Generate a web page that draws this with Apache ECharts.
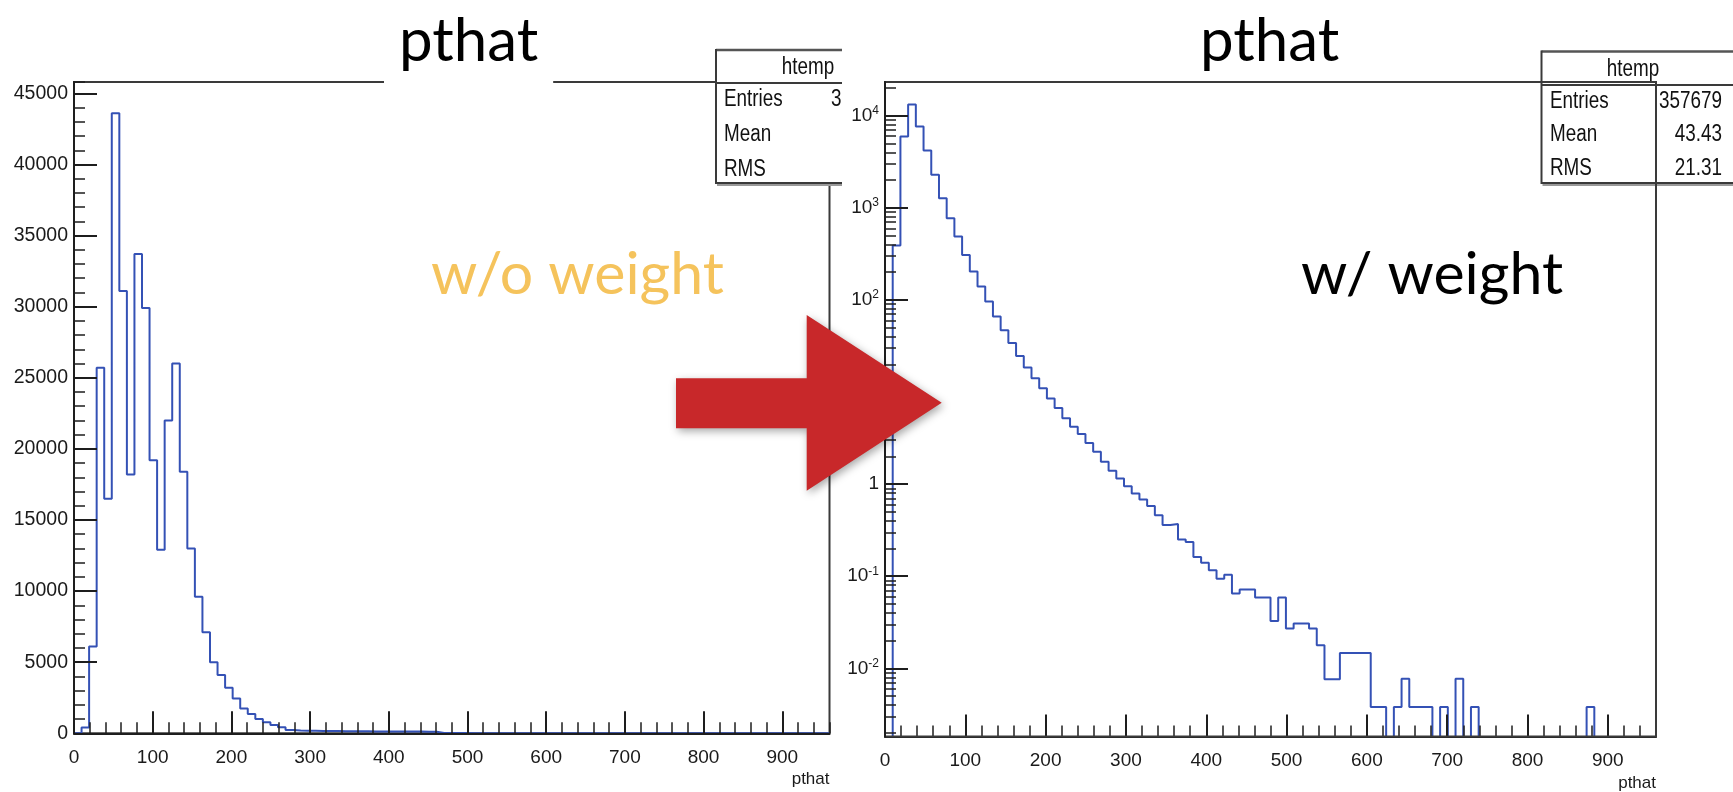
<!DOCTYPE html>
<html>
<head>
<meta charset="utf-8">
<script src="https://cdn.jsdelivr.net/npm/echarts@6/dist/echarts.min.js"></script>
<style>
html,body{margin:0;padding:0;background:#fff;}
#c{width:1733px;height:792px;}
</style>
</head>
<body>
<div id="c"></div>
<script>
// ---------------- data ----------------
const binLow = 0;          // first bin edge (pthat)
const binWidth = 9.6;      // 100 bins from 0 to 960
const xMin = 0, xMax = 960;

// unweighted pthat counts (left panel)
const unweighted = [
  0, 400, 6100, 25700, 16500, 43600, 31100, 18200, 33700, 29900,
  19200, 12900, 22000, 26000, 18400, 13000, 9600, 7100, 5000, 4100,
  3200, 2450, 1750, 1350, 1000, 780, 580, 420, 240, 200,
  185, 175, 165, 160, 155, 150, 145, 140, 140, 135,
  130, 130, 125, 125, 120, 120, 115, 110, 20, 18,
  15, 14, 12, 10, 9, 8, 6, 4, 4, 5,
  5, 4, 4, 1, 1, 0, 1, 2, 1, 1,
  1, 0, 1, 0, 2, 0, 1, 0, 0, 0,
  0, 0, 0, 0, 0, 0, 0, 0, 0, 0,
  0, 1, 0, 0, 0, 0, 0, 0, 0, 0
];

// weighted pthat distribution (right panel, log scale)
const weighted = [
  0, 390, 5960, 13200, 7650, 4200, 2290, 1270, 772, 488,
  308, 203, 140, 96, 66, 47, 34, 24.6, 18.5, 14.1,
  11, 8.5, 6.7, 5.2, 4.2, 3.5, 2.8, 2.25, 1.75, 1.40,
  1.15, 0.95, 0.79, 0.68, 0.58, 0.46, 0.36, 0.37, 0.25, 0.236,
  0.162, 0.14, 0.116, 0.094, 0.104, 0.065, 0.0716, 0.0716, 0.0586, 0.0586,
  0.0327, 0.0586, 0.027, 0.0306, 0.0306, 0.027, 0.0178, 0.0076, 0.0076, 0.0147,
  0.0147, 0.0147, 0.0147, 0.0038, 0.0038, 0, 0.0038, 0.0077, 0.0038, 0.0038,
  0.0038, 0, 0.0038, 0, 0.0077, 0, 0.0038, 0, 0, 0,
  0, 0, 0, 0, 0, 0, 0, 0, 0, 0,
  0, 0.0038, 0, 0, 0, 0, 0, 0, 0, 0
];

const linMax = 45800;                   // left y range top
const logMin = 0.00182, logMax = 23230; // right y range
const logDecades = [0.01, 0.1, 1, 10, 100, 1000, 10000];

const panelTitles = ['pthat', 'pthat'];
const axisTitle = 'pthat';
const notes = ['w/o weight', 'w/ weight'];
const statsTitle = 'htemp';
const statsLabels = ['Entries', 'Mean', 'RMS'];
const statsRightValues = ['357679', '43.43', '21.31'];
const statsLeftValues = ['357679'];

// ---------------- helpers ----------------
const ROOT_FONT = "'Liberation Sans',Arial,sans-serif";
const SLIDE_FONT = "Lato,'Open Sans',sans-serif";
const AX = '#1e1e1e';
const HIST = '#3451b5';

function edge(k) { return +(binLow + k * binWidth).toFixed(4); }
function histPoints(vals, floor) {
  const pts = vals.map((v, k) => [edge(k), v > 0 ? v : floor]);
  pts.push([edge(vals.length), pts[pts.length - 1][1]]);
  return pts;
}
const minorLog = [];
for (let e = -3; e <= 4; e++) {
  for (let m = 2; m <= 9; m++) {
    const v = +(m * Math.pow(10, e)).toPrecision(3);
    if (v > logMin && v < logMax) minorLog.push(v);
  }
}
function logLabel(v) {
  const e = Math.round(Math.log10(v));
  if (e === 0) return '1';
  if (e === 1) return '10';
  return '10{s|' + e + '}';
}

function xAxesFor(grid) {
  return [
    {
      type: 'value', gridIndex: grid, min: xMin, max: xMax, interval: 100,
      position: 'bottom', z: 3,
      axisLine: { show: true, onZero: false, lineStyle: { color: AX, width: 2 } },
      axisTick: { show: true, inside: true, length: 22, lineStyle: { color: AX, width: 2 } },
      axisLabel: { show: true, margin: 15, showMaxLabel: false, formatter: v => String(v),
        color: '#1a1a1a', fontFamily: ROOT_FONT, fontSize: 19 },
      splitLine: { show: false },
      name: axisTitle, nameLocation: 'end', nameGap: 0,
      nameTextStyle: { fontFamily: ROOT_FONT, fontSize: 17, color: '#1a1a1a', align: 'right', verticalAlign: 'top', padding: [38, 0, 0, 0] }
    },
    {
      type: 'value', gridIndex: grid, min: xMin, max: xMax, interval: 20,
      position: 'bottom', z: 3,
      axisLine: { show: false },
      axisTick: { show: true, inside: true, length: 11, lineStyle: { color: AX, width: 1.5 } },
      axisLabel: { show: false }, splitLine: { show: false }
    }
  ];
}

const titleText = { fontFamily: SLIDE_FONT, fontSize: 60, fontWeight: 'normal', color: '#000', lineHeight: 60 };

const option = {
  animation: false,
  backgroundColor: '#fff',
  title: [
    { text: panelTitles[0], left: 384, top: 0, padding: [12, 15, 12, 15], backgroundColor: '#fff', z: 8, textStyle: titleText },
    { text: panelTitles[1], left: 1185, top: 0, padding: [12, 15, 12, 15], backgroundColor: '#fff', z: 8, textStyle: titleText }
  ],
  grid: [
    { left: 74, top: 82, width: 755.5, height: 651.3, show: true, borderColor: '#3a3a3a', borderWidth: 2, backgroundColor: 'transparent', outerBoundsMode: 'none', containLabel: false },
    { left: 885, top: 82, width: 771, height: 654.5, show: true, z: 12, borderColor: '#3a3a3a', borderWidth: 2, backgroundColor: 'transparent', outerBoundsMode: 'none', containLabel: false }
  ],
  xAxis: [].concat(xAxesFor(0), xAxesFor(1)),
  yAxis: [
    {
      type: 'value', gridIndex: 0, min: 0, max: linMax, interval: 5000, position: 'left', z: 3,
      axisLine: { show: true, onZero: false, lineStyle: { color: AX, width: 2 } },
      axisTick: { show: true, inside: true, length: 23, lineStyle: { color: AX, width: 2 } },
      axisLabel: { show: true, margin: 6, showMaxLabel: false, formatter: v => String(v),
        color: '#1a1a1a', fontFamily: ROOT_FONT, fontSize: 19.5 },
      splitLine: { show: false }
    },
    {
      type: 'value', gridIndex: 0, min: 0, max: linMax, interval: 1000, position: 'left', z: 3,
      axisLine: { show: false },
      axisTick: { show: true, inside: true, length: 11, lineStyle: { color: AX, width: 1.5 } },
      axisLabel: { show: false }, splitLine: { show: false }
    },
    {
      type: 'log', logBase: 10, gridIndex: 1, min: logMin, max: logMax, position: 'left', z: 12,
      axisLine: { show: true, onZero: false, lineStyle: { color: AX, width: 2 } },
      axisTick: { show: true, inside: true, length: 23, customValues: logDecades, lineStyle: { color: AX, width: 2 } },
      axisLabel: { show: true, margin: 6, customValues: logDecades, formatter: logLabel,
        color: '#1a1a1a', fontFamily: ROOT_FONT, fontSize: 19,
        rich: { s: { fontFamily: ROOT_FONT, fontSize: 12, color: '#1a1a1a', verticalAlign: 'top', padding: [0, 0, 10, 0] } } },
      splitLine: { show: false }
    },
    {
      type: 'log', logBase: 10, gridIndex: 1, min: logMin, max: logMax, position: 'left', z: 12,
      axisLine: { show: false },
      axisTick: { show: true, inside: true, length: 11, customValues: minorLog, lineStyle: { color: AX, width: 1.5 } },
      axisLabel: { show: false }, splitLine: { show: false }
    }
  ],
  series: [
    { type: 'line', xAxisIndex: 0, yAxisIndex: 0, step: 'end', symbol: 'none', clip: true, z: 2,
      lineStyle: { color: HIST, width: 2 }, data: histPoints(unweighted, 0) },
    { type: 'line', xAxisIndex: 2, yAxisIndex: 2, step: 'end', symbol: 'none', clip: true, z: 2,
      lineStyle: { color: HIST, width: 2 }, data: histPoints(weighted, 1e-4) }
  ],
  graphic: []
};

// ---------- stats boxes (ROOT TPaveStats look) ----------
function txt(x, y, text, align, size, z, color, family, sx) {
  return { type: 'text', x: x, y: y, z: z, scaleX: sx || 1,
    style: { text: text, fill: color || '#111', fontFamily: family || ROOT_FONT, fontSize: size,
      align: align, textAlign: align, verticalAlign: 'middle', textVerticalAlign: 'middle' } };
}
function line(x1, y1, x2, y2, w, c, z) {
  return { type: 'line', z: z, shape: { x1: x1, y1: y1, x2: x2, y2: y2 }, style: { stroke: c, lineWidth: w } };
}
function statsBox(x0, y0, x1, hdrY, yB, titleCx, labelX, valueX, rowYs, values) {
  const els = [];
  els.push({ type: 'rect', z: 9, shape: { x: x0, y: y0, width: x1 - x0, height: yB - y0 }, style: { fill: '#fff' } });
  els.push(line(x0, y0, x1, y0, 2.5, '#555', 9));
  els.push(line(x0, y0 - 1, x0, yB + 1, 2, '#3a3a3a', 9));
  els.push(line(x0, yB, x1, yB, 2, '#3a3a3a', 9));
  els.push(line(x0 + 1, yB + 2, x1, yB + 2, 2, '#999', 9));
  els.push(line(x0, hdrY, x1, hdrY, 2, '#3a3a3a', 9));
  els.push(txt(titleCx, (y0 + hdrY) / 2 + 1, statsTitle, 'center', 23, 10, '#111', ROOT_FONT, 0.82));
  statsLabels.forEach((lab, i) => {
    els.push(txt(labelX, rowYs[i], lab, 'left', 23, 10, '#111', ROOT_FONT, 0.82));
    if (values[i] !== undefined) els.push(txt(valueX, rowYs[i], values[i], 'right', 23, 10, '#111', ROOT_FONT, 0.82));
  });
  return els;
}
option.graphic = [].concat(
  statsBox(716, 50, 842, 83, 183, 808, 724, 894, [100, 135, 170], statsLeftValues),
  [{ type: 'rect', z: 11, shape: { x: 842, y: 38, width: 56, height: 160 }, style: { fill: '#fff' } }],
  statsBox(1541.5, 51.5, 1745, 85, 183, 1633, 1550, 1722, [101.5, 135, 168.5], statsRightValues),
  [
    txt(431, 275, notes[0], 'left', 59, 15, '#f5c35c', SLIDE_FONT),
    txt(1301, 275, notes[1], 'left', 59, 15, '#000', SLIDE_FONT),
    { type: 'polygon', z: 20,
      shape: { points: [[676, 378.3], [806.7, 378.3], [806.7, 315], [941.7, 402.7], [806.7, 490.7], [806.7, 428.3], [676, 428.3]] },
      style: { fill: '#c8282a', shadowBlur: 8, shadowColor: 'rgba(0,0,0,0.35)', shadowOffsetX: 2, shadowOffsetY: 3 } }
  ]
);

const chart = echarts.init(document.getElementById('c'), null, { renderer: 'canvas', width: 1733, height: 792 });
chart.setOption(option);
</script>
</body>
</html>
